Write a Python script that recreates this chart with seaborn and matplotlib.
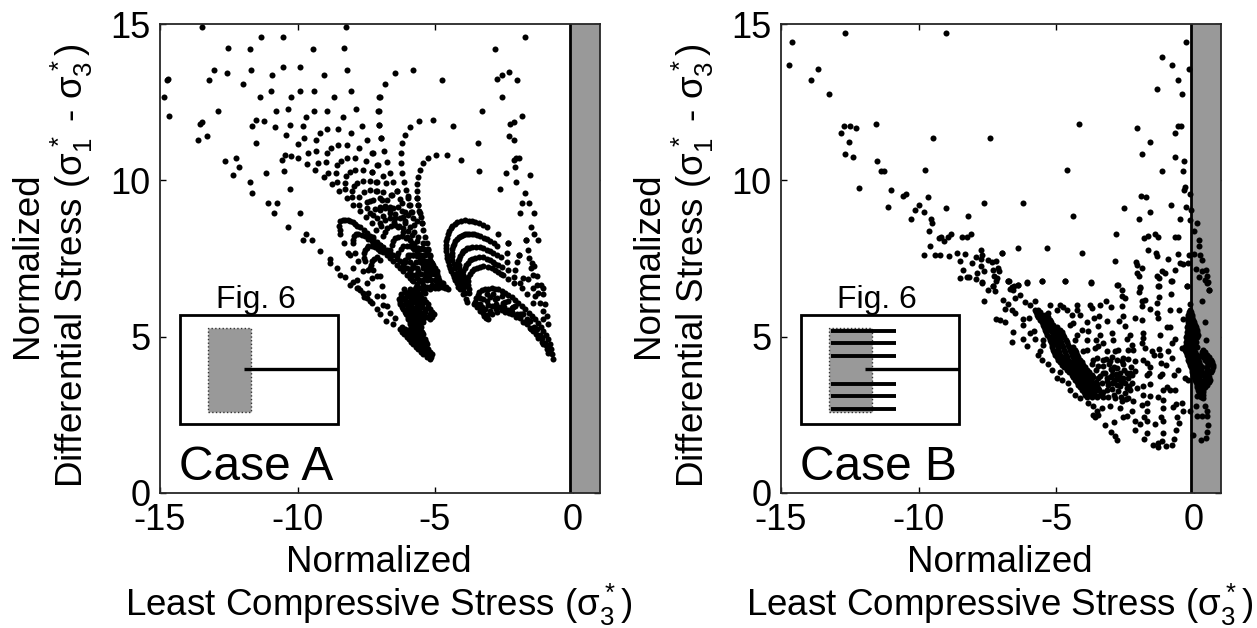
import numpy as np
import pandas as pd
import seaborn as sns
import matplotlib.pyplot as plt
from matplotlib.patches import Rectangle

# ---- Case A (sigma3, differential stress) ----
a_upper = [(-13.48,14.91),(-11.33,14.58),(-10.54,14.58),(-12.54,14.24),(-11.71,14.2),(-9.45,14.2),(-8.3,14.24),(-8.25,14.91),
    (-13.05,13.54),(-12.56,13.42),(-11.7,13.52),(-10.92,13.37),(-10.54,13.64),(-9.91,13.64),(-9.05,13.37),(-8.21,13.52),
    (-14.76,13.22),(-14.71,13.24),(-13.21,13.21),(-11.98,13.09),(-10.96,12.87),(-9.92,12.87),(-9.39,12.87),(-8.04,12.87),
    (-14.87,12.67),(-11.36,12.66),(-10.24,12.66),(-8.67,12.66),(-7.02,12.66),(-12.89,12.21),(-10.79,12.21),(-10.35,12.27),
    (-9.39,12.21),(-8.93,12.21),(-7.86,12.27),(-7.06,12.21),(-14.67,12.06),(-9.68,12.04),(-8.33,12.04),(-11.52,11.94),
    (-11.22,11.91),(-13.49,11.86),(-13.55,11.8),(-11.65,11.74),(-10.83,11.72),(-10.26,11.76),(-9.81,11.75),(-7.65,11.75),
    (-7.05,11.76),(-8.93,11.63),(-8.53,11.63),(-9.2,11.52),(-8.04,11.52),(-10.42,11.46),(-13.3,11.41),(-13.61,11.29),
    (-9.78,11.35),(-9.34,11.29),(-7.46,11.29),(-6.98,11.35),(-11.52,11.18),(-10.0,11.17),(-8.53,11.14),(-8.2,11.14),
    (-8.79,11.05),(-7.76,11.05),(-9.34,10.95),(-9.61,10.86),(-8.92,10.86),(-7.27,10.86),(-10.44,10.8),(-10.24,10.79),
    (-10.55,10.65),(-9.97,10.7),(-8.41,10.63),(-8.19,10.72),(-7.9,10.72),(-7.51,10.63),(-12.64,10.63),(-12.25,10.71),
    (-12.11,10.43),(-12.33,10.17),(-9.67,10.53),(-9.24,10.55),(-8.95,10.59),(-8.55,10.48),(-7.1,10.48),(-10.49,10.3),
    (-11.13,10.23),(-9.36,10.32),(-8.89,10.25),(-8.6,10.25),(-8.09,10.27),(-7.9,10.32),(-7.63,10.32),(-7.29,10.27),
    (-8.22,10.14),(-9.05,10.1),(-11.71,9.95),(-8.58,9.96),(-8.29,9.93),(-7.82,9.93),(-7.62,9.99),(-7.38,9.99),(-7.15,9.96),
    (-8.76,9.88),(-7.95,9.82),(-10.26,9.71),(-11.65,9.61),(-8.48,9.65),(-8.27,9.71),(-8.02,9.65)]
a_lattice = [(-8.21,9.43),(-8.03,9.46),(-7.75,9.48),(-7.97,9.22),(-7.75,9.22),(-7.48,9.32),(-7.74,9.01),(-7.48,9.11),(-7.24,9.38),
    (-7.0,9.43),(-7.52,8.82),(-7.27,8.9),(-7.0,9.06),(-7.3,8.63),(-7.1,8.79),(-6.98,8.53),(-7.6,9.64),(-7.36,9.7),(-7.12,9.67),
    (-7.36,9.35),(-7.28,10.87),(-7.09,10.49),(-7.28,10.26),(-6.9,10.14),(-7.1,9.96),(-6.78,9.91),(-7.14,9.67),(-6.9,9.62),
    (-6.61,9.54),(-6.27,9.4),(-6.94,9.37),(-6.64,9.16),(-6.33,9.14),(-6.09,9.0),(-5.85,9.0),(-6.15,8.84),(-6.76,9.38),(-6.58,9.54),
    (-6.39,9.65),(-6.82,9.17),(-6.52,9.11),(-6.21,9.27),(-5.97,9.49),(-5.67,9.43),(-5.61,9.22),(-5.91,9.22),(-6.21,9.01),(-6.64,8.95),
    (-6.88,8.85),(-6.45,8.79),(-5.97,8.9),(-5.55,8.95),(-5.67,8.69),(-5.48,8.63),(-6.09,8.69)]
a_fan_outer = [(-6.45,13.42),(-5.79,13.54),(-4.73,13.21),(-6.83,13.09),(-7.0,12.67),(-7.04,12.22),(-7.02,11.76),(-6.95,11.35),(-6.85,10.95),
    (-6.73,10.6),(-6.62,10.25),(-6.54,9.94),(-6.39,9.65),(-5.07,11.94),(-5.57,11.91),(-5.9,11.72),(-6.09,11.46),(-6.19,11.18),(-6.24,10.86),
    (-6.22,10.55),(-6.19,10.25),(-6.13,9.96),(-6.07,9.7),(-6.0,9.45),(-5.93,9.22),(-5.88,9.0),(-5.81,8.79),(-5.76,8.58),(-4.58,10.82),
    (-4.96,10.8),(-5.24,10.71),(-5.42,10.55),(-5.55,10.33),(-5.62,10.1),(-5.65,9.89),(-5.67,9.65),(-5.64,9.43),(-5.62,9.22),(-5.57,9.01),
    (-5.52,8.82),(-5.47,8.63),(-5.42,8.42),(-5.36,8.2),(-5.3,7.99),(-5.24,7.78),(-5.18,7.57),(-5.12,7.36),(-5.03,7.15),(-4.9,6.9),(-4.75,6.65)]
a_ribs = [(-6.88,8.21),(-6.76,8.48),(-6.45,8.58),(-6.15,8.48),(-5.85,8.26),(-5.48,7.84),(-5.18,7.46),(-4.94,7.09),(-4.7,6.72),
    (-6.58,7.94),(-6.45,8.16),(-6.21,8.21),(-5.91,8.1),(-5.61,7.84),(-5.3,7.41),(-5.06,7.04),(-4.82,6.66),(-6.33,7.68),(-6.15,7.89),
    (-5.91,7.89),(-5.67,7.73),(-5.42,7.46),(-5.18,7.09),(-4.94,6.72),(-6.09,7.46),(-5.91,7.62),(-5.67,7.57),(-5.42,7.3),(-5.21,6.93),(-5.0,6.56),
    (-7,7.94),(-6.76,7.78),(-6.52,7.62),(-6.27,7.41),(-6.03,7.2),(-5.79,6.98),(-5.55,6.77),(-5.3,6.56),(-7,7.78),(-6.76,7.62),(-6.52,7.41),
    (-6.27,7.2),(-6.03,6.98),(-5.79,6.77),(-5.55,6.56),(-5.36,6.4),(-6.64,7.78),(-6.39,7.57),(-6.15,7.3),(-5.91,7.09),(-5.67,6.88),(-5.42,6.66),
    (-5.18,6.51),(-5.79,7.3),(-5.61,7.09),(-5.36,6.88),(-5.12,6.66),(-4.88,6.56),(-4.64,6.56),(-4.52,6.51),(-4.76,6.72),(-4.94,6.88),(-5.12,7.14)]
a_ribs_fill = [(-6.82,8.35),(-6.6,8.55),(-6.3,8.55),(-6.0,8.38),(-5.67,8.05),(-5.33,7.65),(-5.06,7.28),(-6.52,8.05),(-6.33,8.2),(-6.06,8.17),(-5.76,7.97),
    (-5.45,7.62),(-5.18,7.22),(-6.24,7.8),(-6.03,7.9),(-5.79,7.82),(-5.55,7.6),(-5.3,7.28),(-6.0,7.55),(-5.79,7.62),(-5.55,7.45),(-5.32,7.12),
    (-7.36,8.95),(-7.0,9.16),(-6.64,9.06),(-6.27,8.79),(-5.91,8.52),(-5.61,8.2),(-5.3,7.78),(-7.18,9.08),(-6.82,9.13),(-6.45,8.93),(-6.09,8.65),(-5.76,8.36),(-5.45,8.0),
    (-7.24,8.2),(-7.0,8.63),(-6.64,8.79),(-6.33,8.52),(-6.03,8.2),(-5.67,7.83),(-7.13,8.42),(-6.82,8.72),(-6.48,8.66),(-6.18,8.36),(-5.85,8.0),
    (-6.88,7.72),(-6.64,7.52),(-6.4,7.3),(-6.15,7.1),(-5.9,6.88),(-5.67,6.67),(-5.45,6.47),(-6.88,7.88),(-6.64,7.68),(-6.4,7.47),(-6.15,7.25)]
a_wedge_y = [7.8,7.6,7.4,7.2,7.0,6.8,6.6]
a_wedge_x = [[-5.75,-5.55,-5.4,-5.25],[-6.0,-5.8,-5.55,-5.35,-5.2],[-6.1,-5.9,-5.7,-5.55,-5.3,-5.15],[-6.2,-5.85,-5.65,-5.45,-5.3,-5.12,-5.0],
    [-5.95,-5.65,-5.5,-5.35,-5.2,-5.05,-4.92],[-5.85,-5.6,-5.45,-5.3,-5.15,-5.0,-4.85],[-5.7,-5.45,-5.3,-5.2,-5.05,-4.9,-4.75,-4.6]]
a_left_arcs = [(-8.49,8.55),(-8.45,8.69),(-8.27,8.74),(-8.09,8.71),(-7.91,8.6),(-7.73,8.5),(-7.48,8.32),(-7.24,8.12),(-7.0,7.94),(-8.44,8.29),
    (-8.32,8.0),(-8.0,8.0),(-7.94,8.21),(-7.79,8.29),(-7.55,8.21),(-7.3,8.05),(-7.0,7.89),(-7.6,7.53),(-7.55,7.78),(-7.42,7.89),(-7.18,7.87),
    (-7.0,7.73),(-7.36,7.2),(-7.3,7.41),(-7.12,7.54),(-7.0,7.46),(-8.18,7.68),(-7.91,7.68),(-8.09,7.62),(-8.0,7.2),(-7.79,7.41),(-7.55,7.41),
    (-7.61,7.09),(-7.42,7.14),(-7.24,7.14),(-7.85,6.82),(-7.79,6.56),(-7.48,6.72),(-7.3,6.88),(-7.12,6.93),(-7.42,6.4),(-7.6,6.27),(-7.36,6.13),(-7.12,6.29),
    (-8.36,8.73),(-8.18,8.73),(-8.0,8.66),(-7.82,8.55),(-7.6,8.41),(-7.36,8.22),(-7.12,8.03),(-8.47,8.42),(-7.97,8.1),(-7.86,8.27),(-7.67,8.26),(-7.42,8.13),
    (-7.15,7.97),(-7.58,7.66),(-7.48,7.85),(-7.3,7.89),(-7.09,7.8),(-7.33,7.3),(-7.21,7.48)]
a_diagonal = [(-11.08,9.26),(-10.74,9.26),(-10.84,8.94),(-9.92,8.94),(-10.35,8.51),(-9.68,8.29),(-9.8,8.08),(-9.48,8.08),(-9.19,7.75),
    (-8.82,7.48),(-8.82,7.36),(-8.55,7.19),(-8.45,6.98),(-8.27,6.91),(-8.09,6.66),(-7.97,6.74),(-7.85,6.56),(-7.73,6.5),(-7.61,6.4),(-7.48,6.24),
    (-7.3,6.08),(-7.12,5.87),(-7.0,5.74),(-7,6.93),(-6.94,6.61),(-6.88,6.29),(-6.76,5.97),(-6.64,5.76),(-6.45,5.6),(-6.52,5.39),(-6.9,6.0),(-6.8,5.5)]
# solid lobe under the fan, one row of x per y
a_lobe_y = [6.51,6.43,6.35,6.27,6.19,6.11,6.03,5.95,5.87,5.79,5.71,5.63,5.55,5.47,5.39,5.31,5.23,5.15,5.07,4.99,4.91,4.83,4.75,4.67,4.59,4.51,4.43,4.35,4.27]
a_lobe_x = [[-6.13,-5.91,-5.73],[-6.1,-5.95,-5.8,-5.65],[-6.25,-6.03,-5.79,-5.55],[-6.25,-6.05,-5.9,-5.7,-5.5],[-6.3,-6.13,-5.85,-5.61,-5.39],
    [-6.28,-6.05,-5.95,-5.75,-5.55,-5.32],[-6.27,-6.09,-5.91,-5.67,-5.48,-5.24],[-6.2,-6.0,-5.85,-5.65,-5.48,-5.25],[-6.18,-5.97,-5.79,-5.61,-5.36,-5.18],
    [-6.1,-5.9,-5.75,-5.55,-5.35,-5.12],[-6.05,-5.85,-5.67,-5.42,-5.18,-5.04],[-6.0,-5.85,-5.7,-5.5,-5.3,-5.1],[-5.97,-5.79,-5.61,-5.42,-5.18],[-5.9,-5.75,-5.6,-5.45],
    [-5.91,-5.73,-5.55],[-6.2,-5.85,-5.65,-5.5],[-6.27,-6.09,-5.91,-5.73,-5.55],[-6.2,-6.0,-5.82,-5.64,-5.48],[-6.13,-5.91,-5.73,-5.55,-5.42],[-6.03,-5.82,-5.64,-5.46],
    [-5.93,-5.73,-5.55,-5.36],[-5.86,-5.67,-5.49,-5.33],[-5.79,-5.61,-5.42,-5.3],[-5.7,-5.52,-5.36],[-5.61,-5.42,-5.24],[-5.52,-5.33,-5.18],[-5.42,-5.24,-5.12],[-5.3,-5.15],[-5.18]]
a_right_arcs = [(-3.82,6.1),(-3.87,6.19),(-3.97,6.35),(-4.09,6.51),(-4.21,6.72),(-4.31,6.91),(-4.41,7.09),(-4.49,7.3),(-4.55,7.52),(-4.6,7.73),
    (-4.61,7.94),(-4.58,8.16),(-4.49,8.37),(-4.37,8.53),(-4.19,8.66),(-3.91,8.72),(-3.67,8.69),(-3.4,8.63),(-3.1,8.5),(-2.72,8.28),(-2.33,8.0),
    (-3.91,6.4),(-4.03,6.66),(-4.15,6.91),(-4.27,7.2),(-4.37,7.46),(-4.39,7.68),(-4.36,7.89),(-4.27,8.05),(-4.13,8.18),(-3.97,8.26),(-3.82,8.28),
    (-3.67,8.28),(-3.48,8.25),(-3.22,8.16),(-3.0,8.07),(-2.73,7.89),(-2.37,7.66),(-3.91,6.66),(-4.03,6.91),(-4.13,7.2),(-4.15,7.41),(-4.09,7.59),
    (-3.97,7.73),(-3.82,7.83),(-3.67,7.87),(-3.36,7.87),(-3.12,7.78),(-2.9,7.68),(-2.61,7.54),(-2.37,7.39),(-2.03,7.38),(-3.82,6.61),(-3.95,6.88),
    (-3.97,7.09),(-3.87,7.3),(-3.73,7.44),(-3.55,7.52),(-3.24,7.55),(-3.0,7.44),(-2.82,7.34),(-2.58,7.23),(-2.33,7.14),(-2.09,7.14),(-3.75,6.4),
    (-3.79,6.66),(-3.79,6.91),(-3.67,7.09),(-3.48,7.2),(-3.24,7.27),(-2.94,7.2),(-2.7,7.07),(-2.52,6.96),(-2.33,6.86),(-2.12,6.91),(-2.12,6.72),
    (-4.15,6.6),(-4.26,6.82),(-4.36,7.0),(-4.45,7.2),(-4.52,7.41),(-4.58,7.62),(-4.61,7.84),(-4.6,8.05),(-4.54,8.27),(-4.43,8.46),(-4.28,8.6),(-4.05,8.7),(-3.78,8.71),
    (-3.53,8.67),(-3.25,8.57),(-3.97,6.53),(-4.09,6.78),(-4.21,7.05),(-4.32,7.33),(-4.38,7.57),(-4.38,7.79),(-4.32,7.97),(-4.2,8.12),(-4.05,8.22),(-3.9,8.27),(-3.75,8.28),
    (-3.58,8.27),(-3.35,8.21),(-3.11,8.12),(-2.87,7.98),(-3.97,6.78),(-4.08,7.05),(-4.14,7.3),(-4.12,7.5),(-4.03,7.66),(-3.9,7.78),(-3.75,7.85),(-3.5,7.88),(-3.24,7.83),
    (-3.0,7.73),(-2.75,7.6),(-3.89,6.75),(-3.97,6.98),(-3.92,7.2),(-3.8,7.37),(-3.64,7.48),(-3.4,7.55),(-3.12,7.5),(-2.9,7.39),(-2.7,7.28),(-3.77,6.53),(-3.79,6.78),
    (-3.73,7.0),(-3.58,7.15),(-3.36,7.24),(-3.09,7.24),(-2.82,7.14),(-2.61,7.02)]
a_low_right = [(-3.57,6.03),(-3.51,6.24),(-3.39,6.42),(-3.18,6.53),(-2.94,6.55),(-2.7,6.51),(-2.45,6.4),(-2.21,6.27),(-1.97,6.08),(-1.73,5.87),
    (-1.48,5.65),(-1.24,5.44),(-1.06,5.17),(-0.88,4.91),(-0.79,4.59),(-0.72,4.27),(-3.06,5.55),(-2.94,5.71),(-2.76,5.78),(-2.45,5.78),(-2.21,5.71),
    (-1.91,5.6),(-1.67,5.39),(-1.42,5.17),(-1.24,4.96),(-1.06,4.75),(-0.88,4.48),(-3.48,5.95),(-3.36,5.81),(-3.22,5.67),(-3.36,6.24),(-3.12,6.35),
    (-2.88,6.38),(-2.58,6.29),(-2.33,6.13),(-2.09,5.97),(-1.79,5.71),(-1.55,5.49),(-1.3,5.23),(-1.12,4.96),(-0.94,4.69),(-3.36,6.03),(-3.12,6.13),
    (-2.82,6.19),(-2.52,6.08),(-2.21,5.92),(-1.91,5.74),(-1.67,5.55),(-1.4,5.31),(-1.18,5.05),(-1.0,4.8),(-3.18,5.87),(-2.94,5.97),(-2.64,5.95),
    (-2.33,5.84),(-2.03,5.71),(-3.55,6.12),(-3.45,6.33),(-3.28,6.48),(-3.06,6.54),(-2.82,6.54),(-2.58,6.46),(-2.33,6.34),(-2.09,6.18),(-1.85,5.98),(-1.6,5.76),
    (-1.36,5.55),(-1.15,5.31),(-0.97,5.04),(-0.83,4.75),(-0.75,4.43),(-3.46,6.05),(-3.24,6.2),(-3.0,6.27),(-2.73,6.24),(-2.45,6.1),(-2.15,5.95),(-1.85,5.73),(-1.6,5.5),
    (-1.35,5.27),(-1.15,5.0),(-0.97,4.74),(-0.85,4.55),(-3.3,5.95),(-3.06,6.0),(-2.8,6.05),(-2.5,5.95),(-2.2,5.8),(-1.95,5.65),(-1.73,5.48),(-1.5,5.25),(-1.27,5.02),
    (-1.1,4.82),(-0.92,4.6),(-3.25,5.75),(-3.1,5.7),(-3.0,5.83),(-2.8,5.87),(-2.55,5.86),(-2.3,5.75),(-2.05,5.62),(-1.8,5.47),(-1.55,5.28),(-1.33,5.08),(-3.14,5.6)]
a_right_dots = [(-1.73,14.57),(-2.82,14.21),(-2.75,13.24),(-2.58,13.37),(-2.31,13.46),(-2.02,13.21),(-2.58,12.67),(-3.29,12.22),(-1.85,12.06),
    (-2.27,11.8),(-2.12,11.86),(-4.36,11.74),(-2.32,11.41),(-2.13,11.28),(-3.43,11.18),(-4.04,10.65),(-1.95,10.73),(-2.05,10.7),(-2.14,10.64),
    (-2.1,10.43),(-3.39,10.3),(-2.41,10.24),(-1.55,10.17),(-2.05,9.96),(-2.64,9.71),(-1.73,9.61),(-1.84,9.26),(-1.59,9.26),(-1.9,8.95),(-1.39,8.95),
    (-1.5,8.5),(-1.39,8.29),(-1.25,8.1),(-1.69,8.08),(-2.33,7.98),(-1.61,7.76),(-1.93,7.61),(-1.57,7.51),(-1.48,7.36),(-1.4,7.27),(-1.52,7.2),
    (-1.42,6.98),(-1.3,6.95),(-1.16,6.66),(-1.06,6.56),(-1.3,6.66),(-1.42,6.56),(-1.24,6.4),(-1.36,6.29),(-1.06,6.35),(-1.18,6.08),(-1.0,6.03),
    (-1.42,6.08),(-1.06,5.81),(-0.94,5.65),(-1.06,5.55),(-0.88,5.39),(-1.67,6.35),(-1.85,6.56),(-1.61,6.85),(-1.79,6.88),(-1.91,6.72),(-1.93,7.62),(-1.69,8.1)]

# ---- Case B ----
b_upper = [(-12.67,14.72),(-9.0,14.72),(-14.61,14.43),(-14.71,13.69),(-13.65,13.56),(-13.91,13.21),(-13.27,12.76),(-12.72,11.74),(-12.49,11.74),
    (-12.28,11.68),(-11.55,11.79),(-12.81,11.52),(-9.48,11.36),(-7.4,11.36),(-12.52,11.22),(-12.67,10.84),(-12.39,10.75),(-11.5,10.61),(-11.38,10.29),
    (-11.24,10.29),(-9.75,10.32),(-12.15,9.77),(-11.0,9.7),(-10.56,9.49),(-10.47,9.55),(-9.64,9.46),(-7.62,9.26),(-11.12,9.16),(-10.0,9.2),(-10.13,9.05),
    (-9.79,9.0),(-9.01,9.1),(-8.19,8.85),(-9.56,8.77),(-9.5,8.63),(-10.26,8.75),(-9.61,8.39),(-9.25,8.14),(-9.19,8.19),(-9.06,8.07),(-8.94,8.2),(-8.83,8.27),
    (-8.42,8.18),(-8.24,8.18),(-8.08,8.28),(-9.59,7.9),(-9.8,7.62),(-9.41,7.62),(-9.21,7.61),(-8.89,7.58),(-8.59,7.69),(-8.3,7.63),(-8.5,7.43),(-7.74,7.78),
    (-7.92,7.55),(-8.04,7.35),(-7.69,7.62),(-7.72,7.49),(-7.73,7.27),(-7.46,7.46),(-7.32,7.39),(-7.17,7.42),(-6.98,7.66),(-7.3,7.14),(-7.12,7.19),(-7.06,7.09),
    (-8.39,7.12),(-7.63,7.09),(-7.86,7.03),(-8.49,6.89),(-8.25,6.92),(-8.15,6.91),(-7.92,6.85),(-7.69,6.74),(-7.25,6.93),(-7.13,6.87),(-7.19,6.77),(-6.73,6.77),(-7.3,6.63)]
b_right = [(-0.29,14.43),(-1.13,13.93),(-0.79,13.68),(-0.16,13.56),(-0.55,13.21),(-1.33,12.92),(-0.41,12.76),(-4.16,11.79),(-0.58,11.74),(-0.45,11.74),
    (-2.07,11.68),(-0.67,11.52),(-1.57,11.22),(-1.86,10.84),(-0.67,10.75),(-0.35,10.61),(-4.59,10.32),(-1.15,10.29),(-0.37,10.29),(-0.3,9.78),(-0.33,9.69),
    (-0.13,9.56),(-1.92,9.49),(-1.71,9.46),(-6.21,9.26),(-0.83,9.21),(-0.29,9.16),(-0.08,9.06),(-2.51,9.1),(-1.59,8.99),(-4.39,8.85),(-1.98,8.77),(-0.48,8.77),
    (-0.13,8.74),(0.14,8.63),(0.02,8.39),(-2.82,8.28),(-1.41,8.27),(-1.28,8.18),(-1.67,8.22),(-1.79,8.14),(-0.66,8.18),(-0.58,8.2),(0.21,8.08),(0.21,7.91),
    (-6.37,7.83),(-5.33,7.83),(-1.67,7.78),(-1.37,7.69),(-1.31,7.57),(-6.98,7.66),(-4.06,7.66),(-0.58,7.63),(-0.16,7.62),(0.03,7.64),(0.24,7.61),(0.32,7.44),
    (-2.85,7.43),(-0.93,7.47),(-2.1,7.39),(-2.07,7.28),(-1.87,7.2),(-0.48,7.36),(-0.39,7.34),(-0.2,7.36),(-0.68,7.14),(0.1,7.16),(0.3,7.09),(0.44,7.12),
    (-1.15,7.1),(-1.05,7.03),(-2.04,7.03),(-2.0,6.93),(0.21,6.9),(0.48,6.93),(-1.31,6.93),(-1.27,6.87),(-6.72,6.79),(-6.07,6.74),(-5.5,6.79),(-4.67,6.79),
    (-3.71,6.74),(-0.81,6.79),(0.43,6.8),(0.54,6.74),(-2.77,6.66),(-6.37,6.66),(-6.61,6.6),(-6.53,6.63),(-1.95,6.59),(-1.27,6.63),(-0.24,6.63),(0.58,6.5)]
b_mid = [(-7.7,6.73),(-7.28,6.63),(-6.73,6.77),(-6.37,6.66),(-6.07,6.73),(-5.52,6.77),(-4.67,6.77),(-3.73,6.73),(-2.76,6.66),(-1.94,6.55),(-1.28,6.63),(-0.79,6.77),
    (-0.25,6.63),(0.48,6.73),(0.58,6.48),(-7.46,6.48),(-7.22,6.45),(-6.67,6.52),(-6.55,6.5),(-2.61,6.48),(-1.98,6.42),(-0.83,6.37),(-1.24,6.27),(-2.49,6.23),
    (-2.61,6.29),(-6.31,6.34),(-6.49,6.23),(-7.61,6.13),(-6.91,6.18),(-6.13,6.1),(-5.76,6.13),(-6.73,6.05),(-1.88,6.13),(-1.76,6.18),(-1.34,6.07),(-1.88,5.99),
    (0.32,6.13),(-0.13,6.04),(-3.4,6.02),(-3.18,6.13),(-3.76,6.02),(-4.25,6.02),(-4.85,6.02),(-5.22,6.02),(-2.61,5.99),(-3.01,5.95),(-6.85,5.88),(-6.61,5.84),
    (-6.49,5.76),(-5.94,6.02),(-4.73,5.95),(-4.25,5.86),(-3.7,5.91),(-4.13,5.7),(-4.61,5.86),(-4.97,5.84),(-1.58,5.89),(-0.85,5.86),(-0.53,5.86),(-1.34,5.76),
    (-7.19,5.56),(-7.04,5.52),(-6.85,5.46),(-6.19,5.56),(-5.98,5.6),(-5.28,5.76),(-4.43,5.7),(-3.42,5.67),(-3.61,5.6),(-2.55,5.67),(-2.13,5.6),(-1.86,5.54),
    (-1.28,5.6),(-0.39,5.56),(0.4,5.47),(-2.71,5.51),(-3.16,5.49),(-3.88,5.46),(-4.37,5.44),(-6.19,5.38),(-6.57,5.14),(-6.61,4.83),(-6.21,4.92),(-6.07,4.69),
    (-5.94,5.12),(-5.8,5.17),(-5.76,4.92),(-5.46,4.9),(-5.48,4.74),(-4.49,5.38),(-3.46,5.33),(-2.49,5.33),(-0.97,5.31),(-0.85,5.31),(-1.22,5.06),(-1.85,5.12),
    (-1.82,4.96),(-2.31,5.06),(-2.43,4.92),(-2.97,5.12),(-2.91,4.9),(-3.4,5.06),(-3.54,4.9),(-3.82,5.17),(-4.07,5.22),(-4.25,5.06),(-3.88,4.9),(-4.31,4.9),
    (-3.28,4.8),(-2.25,4.74),(-1.88,4.8),(-0.67,4.92),(-0.79,4.8),(0.46,4.9),(-0.43,4.64)]
b_lower = [(-5.58,4.53),(-5.64,4.42),(-5.52,4.26),(-5.28,4.13),(-5.16,3.94),(-4.85,3.86),(-4.97,3.68),(-4.79,3.63),(-4.55,3.52),(-4.49,3.31),(-4.31,3.15),(-4.13,3.04),
    (-3.82,2.88),(-3.64,2.77),(-3.34,2.72),(-3.52,2.61),(-3.64,2.51),(-3.46,2.51),(-3.58,2.43),(-3.22,2.19),(-2.89,2.26),(-3.01,1.94),(-2.85,1.81),(-2.79,1.71),
    (-2.13,2.03),(-2.13,2.29),(-1.94,2.22),(-1.8,2.43),(-1.7,2.29),(-1.4,2.22),(-1.18,2.43),(-1.1,2.29),(-0.61,2.43),(-0.51,2.24),(-0.64,2.03),(-0.7,1.73),(-0.79,1.55),
    (-1.01,1.5),(-1.16,1.65),(-1.28,1.6),(-1.48,1.55),(-1.28,1.46),(-1.8,1.73),(-1.68,1.92),(-1.1,1.92),(-4.01,4.53),(-3.88,4.56),(-3.58,4.64),(-3.46,4.69),(-3.16,4.53),
    (-2.85,4.53),(-2.73,4.58),(-2.37,4.56),(-2.21,4.56),(-1.76,4.64),(-1.52,4.53),(-1.42,4.4),(-1.25,4.6),(-1.22,4.42),(-0.91,4.55),(-0.79,4.32),(-1.18,4.16),(-1.0,4.08),
    (-1.82,4.26),(-1.7,4.16),(-1.58,4.03),(-2.13,4.21),(-2.55,4.32),(-2.79,4.26),(-3.04,4.21),(-3.28,4.26),(-3.64,4.26),(-3.46,4.05),(-3.28,3.84),(-2.97,3.78),(-2.79,3.73),
    (-2.55,3.68),(-2.43,3.84),(-2.13,3.89),(-2.25,3.78),(-1.7,3.78),(-1.62,3.84),(-1.22,3.73),(-1.16,3.82),(-0.7,3.78),(-0.55,3.92),(-0.31,3.68),(-0.21,3.63),(-3.34,3.52),
    (-3.16,3.57),(-2.91,3.52),(-2.67,3.41),(-2.43,3.36),(-2.25,3.52),(-2.07,3.36),(-1.82,3.41),(-1.58,3.5),(-1.85,3.15),(-1.58,3.09),(-1.7,2.88),(-1.88,2.83),(-2.19,2.93),
    (-2.37,3.04),(-2.61,2.93),(-2.67,2.72),(-2.85,3.04),(-3.04,2.79),(-3.28,3.07),(-3.16,3.31),(-3.46,3.36),(-1.1,3.31),(-0.97,3.39),(-0.85,3.31),(-0.67,3.31),(-1.3,3.07),
    (-1.1,2.99),(-1.1,2.72),(-0.73,2.75),(-0.64,2.86),(-0.43,2.88),(-1.7,2.63),(-2.25,2.63),(-2.43,2.47),(-2.55,2.43),(-2.79,4.0),(-2.97,3.94),(-2.67,3.84),(-3.16,3.68),
    (-3.4,3.73),(-2.67,3.63),(-2.85,3.63),(-2.49,3.52),(-0.37,2.61),(-0.13,2.63),(0.12,3.09),(0.36,3.04),(0.09,2.77),(0.4,2.77),(0.48,2.61),(0.12,2.47),(0.3,2.45),(0.5,2.47),
    (0.52,2.19),(0.5,1.94),(0.26,1.71),(0.46,1.76),(-0.03,1.87)]
b_blob = [(-3.5,4.32),(-3.2,4.27),(-2.95,4.35),(-2.6,4.22),(-2.4,4.3),(-3.68,4.12),(-3.3,4.05),(-3.08,4.14),(-2.9,4.03),(-2.58,4.12),(-2.28,4.02),(-3.55,3.92),
    (-3.22,3.84),(-3.0,3.95),(-2.82,3.82),(-2.52,3.92),(-2.3,3.85),(-3.48,3.68),(-3.02,3.72),(-2.9,3.62),(-2.72,3.72),(-2.62,3.58),(-2.38,3.68),(-3.5,3.5),(-3.1,3.46),
    (-2.95,3.52),(-2.78,3.44),(-2.55,3.55),(-2.33,3.42),(-3.42,3.28),(-3.28,3.22),(-2.95,3.32),(-2.75,3.25),(-2.5,3.2),(-2.3,3.28),(-3.4,3.12),(-3.1,3.06),(-2.9,3.15),
    (-2.65,3.08),(-2.45,3.0)]
# the dense streaks, one row of x per y
streak_y = [5.86,5.78,5.7,5.62,5.54,5.46,5.38,5.3,5.22,5.14,5.06,4.98,4.9,4.82,4.74,4.66,4.58,4.5,4.42,4.34,4.26,4.18,4.1,4.02,3.94,3.86,3.78,3.7,3.63,3.55,3.47,3.39,3.31,3.23,3.15,3.07]
b_streak_x = [[-5.76,-5.64],[-5.73,-5.6],[-5.7,-5.52,-5.4],[-5.64,-5.46,-5.3],[-5.58,-5.4,-5.22],[-5.52,-5.35,-5.18],[-5.46,-5.31,-5.12],[-5.43,-5.26,-5.08,-4.95],
    [-5.4,-5.22,-5.04,-4.85],[-5.35,-5.16,-4.97,-4.8],[-5.31,-5.1,-4.91,-4.73],[-5.27,-5.07,-4.88,-4.7],[-5.22,-5.04,-4.85,-4.64],[-5.2,-5.0,-4.82,-4.6],
    [-5.16,-4.97,-4.79,-4.55],[-5.13,-4.94,-4.74,-4.52,-4.4],[-5.1,-4.91,-4.7,-4.49,-4.31],[-5.07,-4.88,-4.67,-4.46,-4.28],[-5.04,-4.85,-4.64,-4.43,-4.25],
    [-4.97,-4.79,-4.6,-4.39,-4.19],[-4.91,-4.73,-4.55,-4.34,-4.13],[-4.85,-4.66,-4.47,-4.28,-4.07],[-4.79,-4.59,-4.39,-4.19,-4.01],[-4.7,-4.5,-4.32,-4.13,-3.95],
    [-4.59,-4.43,-4.25,-4.07,-3.88],[-4.52,-4.34,-4.16,-3.97,-3.79],[-4.43,-4.25,-4.07,-3.88,-3.7],[-4.37,-4.19,-4.01,-3.82,-3.66],[-4.31,-4.13,-3.95,-3.76],
    [-4.25,-4.07,-3.88,-3.7,-3.55],[-4.19,-4.01,-3.82,-3.64],[-4.13,-3.95,-3.76,-3.58],[-4.07,-3.88,-3.7,-3.52],[-4.0,-3.82,-3.64],[-3.95,-3.76,-3.58],[-3.88,-3.7,-3.52]]
b_right_streak_x = [[-0.13],[-0.16,-0.1],[-0.19,-0.07],[-0.2,-0.05],[-0.19,-0.03],[-0.2,-0.1,0.0],[-0.21,-0.07,0.06],[-0.22,-0.08,0.08],[-0.21,-0.07,0.12],
    [-0.24,-0.1,0.05,0.14],[-0.25,-0.1,0.06,0.18],[-0.28,-0.12,0.0,0.12],[-0.25,-0.13,0.06],[-0.26,-0.15,0.0,0.1],[-0.27,-0.13,0.06],[-0.3,-0.15,0.0,0.12],
    [-0.31,-0.15,-0.01,0.36],[-0.28,-0.12,0.05,0.3,0.42],[-0.25,-0.07,0.12,0.3,0.48],[-0.2,-0.03,0.15,0.36,0.55],[-0.19,-0.01,0.18,0.42,0.63],[-0.15,0.02,0.2,0.48,0.68],
    [-0.13,0.06,0.24,0.54,0.72],[-0.1,0.1,0.3,0.5,0.7],[-0.07,0.06,0.24,0.48,0.66],[-0.05,0.1,0.3,0.5,0.62],[-0.01,0.18,0.36,0.54],[0.02,0.2,0.4,0.55],
    [0.06,0.24,0.42,0.6],[0.08,0.28,0.45,0.55],[0.12,0.3,0.48],[0.12,0.28,0.42],[0.18,0.33],[0.2,0.35],[0.24,0.36],[0.26]]

x_ticks = [-15, -10, -5, 0]
y_ticks = [0, 5, 10, 15]
stick_y = [5.18, 4.79, 4.38, 3.48, 3.10, 2.68]


def rows_to_points(ys, xs):
    return [(x, y) for y, row in zip(ys, xs) for x in row]


def draw_panel(ax, points, case_name, sticks):
    df = pd.DataFrame(points, columns=['s3', 'ds'])
    ax.axvspan(-0.08, 1, color='#999999', lw=0)
    ax.axvline(-0.08, color='black', lw=2)
    sns.scatterplot(data=df, x='s3', y='ds', color='black', s=19, linewidth=0, legend=False, ax=ax, zorder=3)

    ax.set_xlim(-15, 1)
    ax.set_ylim(0, 15)
    ax.set_xticks(x_ticks)
    ax.set_yticks(y_ticks)
    ax.tick_params(direction='in', length=4, width=1, top=True, right=True, labelsize=26, pad=7)
    for s in ax.spines.values():
        s.set_linewidth(1.3)
        s.set_visible(True)
    ax.set_xlabel('Normalized\nLeast Compressive Stress ($\\sigma_3^*$)', fontsize=26.5, linespacing=1.05)
    ax.set_ylabel('Normalized\nDifferential Stress ($\\sigma_1^*$ - $\\sigma_3^*$)', fontsize=26.5, linespacing=1.1)
    ax.xaxis.set_label_coords(0.497, -0.111)
    ax.yaxis.set_label_coords(-0.148, 0.486)

    # little sketch of the fault geometry
    ax.add_patch(Rectangle((-14.27, 2.2), 5.74, 3.49, fc='white', ec='black', lw=2, zorder=4))
    ax.add_patch(Rectangle((-13.24, 2.59), 1.55, 2.68, fc='#999999', ec='#333333', lw=1, ls=':', zorder=5))
    if sticks:
        for y in stick_y:
            ax.plot([-13.2, -10.82], [y, y], color='black', lw=2.8, solid_capstyle='butt', zorder=6)
    ax.plot([-11.95, -8.53], [3.96, 3.96], color='black', lw=2.4, solid_capstyle='butt', zorder=6)
    ax.text(-11.5, 5.91, 'Fig. 6', fontsize=23, ha='center', va='baseline')
    ax.text(-14.3, 0.42, case_name, fontsize=34.5, ha='left', va='baseline')


sns.set_theme(style='ticks')
plt.rcParams['font.family'] = ['Liberation Sans', 'DejaVu Sans']
plt.rcParams['mathtext.fontset'] = 'custom'
plt.rcParams['mathtext.rm'] = 'Liberation Sans'
plt.rcParams['mathtext.it'] = 'Liberation Sans'
plt.rcParams['mathtext.bf'] = 'Liberation Sans:bold'
plt.rcParams['axes.unicode_minus'] = False
plt.rcParams['text.color'] = 'black'
plt.rcParams['axes.labelcolor'] = 'black'
plt.rcParams['xtick.color'] = 'black'
plt.rcParams['ytick.color'] = 'black'

fig = plt.figure(figsize=(12.57, 6.28), dpi=100)
ax_a = fig.add_axes([160 / 1257, 1 - 493 / 628, 440 / 1257, 469 / 628])
ax_b = fig.add_axes([781 / 1257, 1 - 493 / 628, 440 / 1257, 469 / 628])

points_a = (a_upper + a_lattice + a_fan_outer + a_ribs + a_ribs_fill + rows_to_points(a_wedge_y, a_wedge_x) + a_left_arcs + a_diagonal
            + rows_to_points(a_lobe_y, a_lobe_x) + a_right_arcs + a_low_right + a_right_dots)
points_b = (b_upper + b_right + b_mid + b_lower + b_blob
            + rows_to_points(streak_y, b_streak_x) + rows_to_points(streak_y, b_right_streak_x))

draw_panel(ax_a, points_a, 'Case A', False)
draw_panel(ax_b, points_b, 'Case B', True)

plt.savefig('out.png', dpi=100)
plt.close()
